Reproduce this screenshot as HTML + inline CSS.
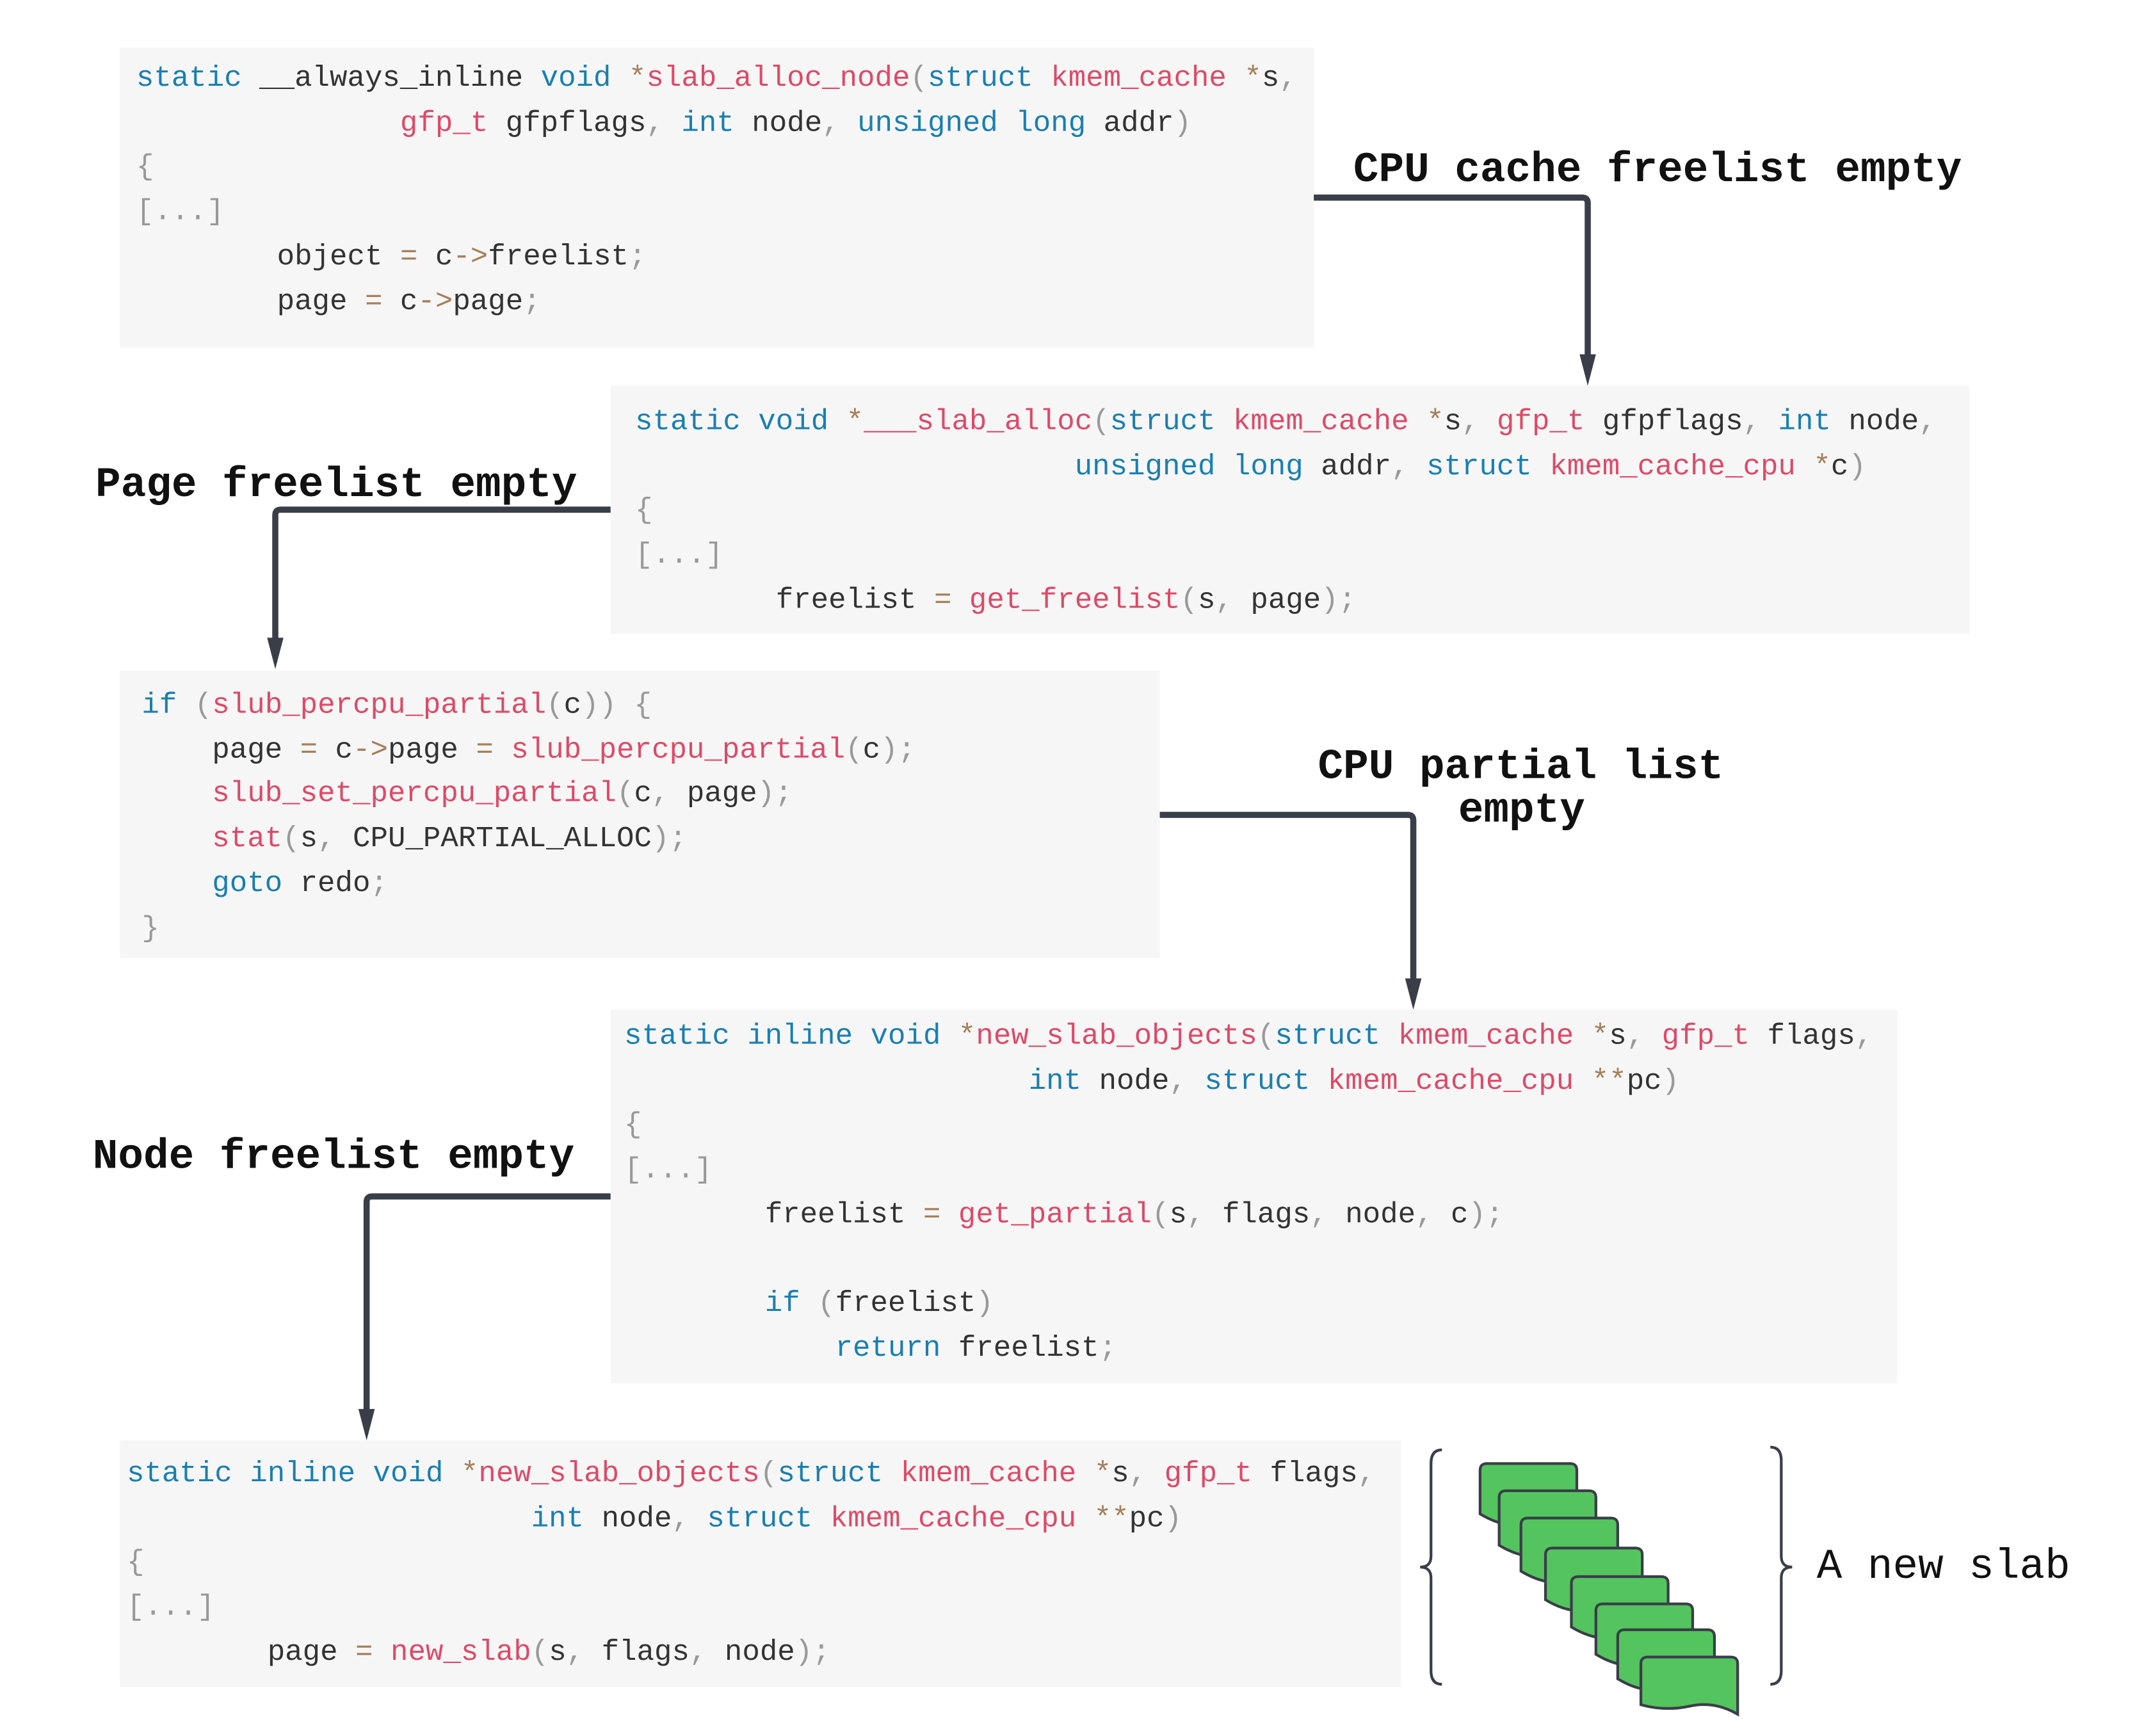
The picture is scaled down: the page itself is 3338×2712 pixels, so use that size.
<!DOCTYPE html>
<html><head><meta charset="utf-8"><style>
html,body{margin:0;padding:0;background:#fff;}
body{width:3338px;height:2711px;overflow:hidden;position:relative;}
#w{position:absolute;left:0;top:0;width:1568px;height:1274px;transform:scale(2.1288);transform-origin:0 0;}
.box{position:absolute;background:#f6f6f6;}
.c{position:absolute;font-family:"Liberation Mono",monospace;font-size:21.5px;white-space:pre;color:#333;line-height:32.7px;}
.k{color:#1a7fb0}.f{color:#dd4a68}.p{color:#999}.o{color:#a67f59}
.lbl{position:absolute;font-family:"Liberation Mono",monospace;font-weight:bold;font-size:31px;color:#111;white-space:pre;line-height:32px;}
svg{position:absolute;left:0;top:0;}
</style></head><body><div id="w">
<div class="box" style="left:88px;top:35px;width:876px;height:220px"></div>
<div class="box" style="left:448px;top:283px;width:997px;height:182px"></div>
<div class="box" style="left:88px;top:492px;width:763px;height:211px"></div>
<div class="box" style="left:448px;top:741px;width:944px;height:274px"></div>
<div class="box" style="left:88px;top:1057px;width:940px;height:181px"></div>

<div class="c" style="left:100px;top:42px"><span class="k">static</span> __always_inline <span class="k">void</span> <span class="o">*</span><span class="f">slab_alloc_node</span><span class="p">(</span><span class="k">struct</span> <span class="f">kmem_cache</span> <span class="o">*</span>s<span class="p">,</span>
               <span class="f">gfp_t</span> gfpflags<span class="p">,</span> <span class="k">int</span> node<span class="p">,</span> <span class="k">unsigned</span> <span class="k">long</span> addr<span class="p">)</span>
<span class="p">{</span>
<span class="p">[...]</span>
        object <span class="o">=</span> c<span class="o">-></span>freelist<span class="p">;</span>
        page <span class="o">=</span> c<span class="o">-></span>page<span class="p">;</span></div>

<div class="c" style="left:466px;top:294px"><span class="k">static</span> <span class="k">void</span> <span class="o">*</span><span class="f">___slab_alloc</span><span class="p">(</span><span class="k">struct</span> <span class="f">kmem_cache</span> <span class="o">*</span>s<span class="p">,</span> <span class="f">gfp_t</span> gfpflags<span class="p">,</span> <span class="k">int</span> node<span class="p">,</span>
                         <span class="k">unsigned</span> <span class="k">long</span> addr<span class="p">,</span> <span class="k">struct</span> <span class="f">kmem_cache_cpu</span> <span class="o">*</span>c<span class="p">)</span>
<span class="p">{</span>
<span class="p">[...]</span>
        freelist <span class="o">=</span> <span class="f">get_freelist</span><span class="p">(</span>s<span class="p">,</span> page<span class="p">);</span></div>

<div class="c" style="left:104px;top:502px"><span class="k">if</span> <span class="p">(</span><span class="f">slub_percpu_partial</span><span class="p">(</span>c<span class="p">))</span> <span class="p">{</span>
    page <span class="o">=</span> c<span class="o">-></span>page <span class="o">=</span> <span class="f">slub_percpu_partial</span><span class="p">(</span>c<span class="p">);</span>
    <span class="f">slub_set_percpu_partial</span><span class="p">(</span>c<span class="p">,</span> page<span class="p">);</span>
    <span class="f">stat</span><span class="p">(</span>s<span class="p">,</span> CPU_PARTIAL_ALLOC<span class="p">);</span>
    <span class="k">goto</span> redo<span class="p">;</span>
<span class="p">}</span></div>

<div class="c" style="left:458px;top:745px"><span class="k">static</span> <span class="k">inline</span> <span class="k">void</span> <span class="o">*</span><span class="f">new_slab_objects</span><span class="p">(</span><span class="k">struct</span> <span class="f">kmem_cache</span> <span class="o">*</span>s<span class="p">,</span> <span class="f">gfp_t</span> flags<span class="p">,</span>
                       <span class="k">int</span> node<span class="p">,</span> <span class="k">struct</span> <span class="f">kmem_cache_cpu</span> <span class="o">**</span>pc<span class="p">)</span>
<span class="p">{</span>
<span class="p">[...]</span>
        freelist <span class="o">=</span> <span class="f">get_partial</span><span class="p">(</span>s<span class="p">,</span> flags<span class="p">,</span> node<span class="p">,</span> c<span class="p">);</span>

        <span class="k">if</span> <span class="p">(</span>freelist<span class="p">)</span>
            <span class="k">return</span> freelist<span class="p">;</span></div>

<div class="c" style="left:93px;top:1066px"><span class="k">static</span> <span class="k">inline</span> <span class="k">void</span> <span class="o">*</span><span class="f">new_slab_objects</span><span class="p">(</span><span class="k">struct</span> <span class="f">kmem_cache</span> <span class="o">*</span>s<span class="p">,</span> <span class="f">gfp_t</span> flags<span class="p">,</span>
                       <span class="k">int</span> node<span class="p">,</span> <span class="k">struct</span> <span class="f">kmem_cache_cpu</span> <span class="o">**</span>pc<span class="p">)</span>
<span class="p">{</span>
<span class="p">[...]</span>
        page <span class="o">=</span> <span class="f">new_slab</span><span class="p">(</span>s<span class="p">,</span> flags<span class="p">,</span> node<span class="p">);</span></div>

<div class="lbl" style="left:993px;top:110px">CPU cache freelist empty</div>
<div class="lbl" style="left:70px;top:341px">Page freelist empty</div>
<div class="lbl" style="left:967px;top:548px">CPU partial list</div>
<div class="lbl" style="left:1070px;top:580px">empty</div>
<div class="lbl" style="left:68px;top:834px">Node freelist empty</div>
<div class="lbl" style="left:1333px;top:1135px;font-weight:normal">A new slab</div>

<svg width="1568" height="1274" viewBox="0 0 1568 1274">
<g fill="none" stroke="#393e48" stroke-width="4.5">
<path d="M964 145 H1161 q4 0 4 4 V266"/>
<path d="M448 374 H206 q-4 0 -4 4 V474"/>
<path d="M851 598 H1033 q4 0 4 4 V724"/>
<path d="M448 878 H273 q-4 0 -4 4 V1040"/>
</g>
<g fill="#393e48">
<path d="M1159 260 L1171 260 L1165 283 Z"/>
<path d="M196 468 L208 468 L202 491 Z"/>
<path d="M1031 718 L1043 718 L1037 741 Z"/>
<path d="M263 1034 L275 1034 L269 1057 Z"/>
</g>
<g fill="none" stroke="#393e48" stroke-width="2">
<path d="M1058 1064 q-8 0 -8 10 V1142 q0 8 -8 8 q8 0 8 8 V1226 q0 10 8 10"/>
<path d="M1299 1062 q8 0 8 10 V1142 q0 8 8 8 q-8 0 -8 8 V1226 q0 10 -8 10"/>
</g>
<g fill="#54c45e" stroke="#393e48" stroke-width="2">
<path d="M1086 1111 V1079 q0 -5 5 -5 H1152 q5 0 5 5 V1121 Q1136 1111 1121 1117 T1086 1111 Z"/>
<path d="M1100 1134 V1099 q0 -5 5 -5 H1166 q5 0 5 5 V1144 Q1150 1134 1135 1140 T1100 1134 Z"/>
<path d="M1116 1153 V1119 q0 -5 5 -5 H1182 q5 0 5 5 V1163 Q1166 1153 1151 1159 T1116 1153 Z"/>
<path d="M1134 1174 V1141 q0 -5 5 -5 H1200 q5 0 5 5 V1184 Q1184 1174 1169 1180 T1134 1174 Z"/>
<path d="M1153 1194 V1162 q0 -5 5 -5 H1219 q5 0 5 5 V1204 Q1203 1194 1188 1200 T1153 1194 Z"/>
<path d="M1171 1214 V1182 q0 -5 5 -5 H1237 q5 0 5 5 V1224 Q1221 1214 1206 1220 T1171 1214 Z"/>
<path d="M1187 1232 V1201 q0 -5 5 -5 H1253 q5 0 5 5 V1242 Q1237 1232 1222 1238 T1187 1232 Z"/>
<path d="M1204 1251 V1221 q0 -5 5 -5 H1270 q5 0 5 5 V1258 Q1258 1248 1240 1252 T1204 1251 Z"/>
</g>
</svg>
</div></body></html>
